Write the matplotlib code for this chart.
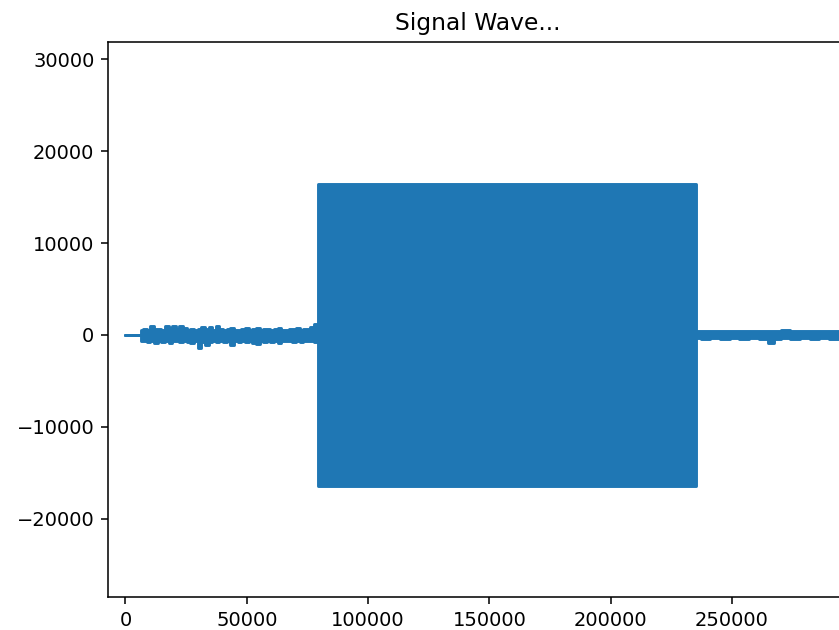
import numpy as np
from matplotlib import pyplot as plt

# quiet lead-in before the noise starts
lead_x = [0, 6000]
lead_v = [0, 0]

# noisy part before the tone (envelope)
pre_x = [6500, 8000, 9500, 11000, 12500, 14000, 15500, 17000, 18500, 20000,
         21500, 23000, 24500, 26000, 27500, 29000, 30500, 32000, 33500, 35000,
         36500, 38000, 39500, 41000, 42500, 44000, 45500, 47000, 48500, 50000,
         51500, 53000, 54500, 56000, 57500, 59000, 60500, 62000, 63500, 65000,
         66500, 68000, 69500, 71000, 72500, 74000, 75500, 77000, 78500]
pre_hi = [500, 600, 550, 1000, 600, 650, 550, 1000, 700, 1000,
          600, 950, 700, 550, 650, 500, 600, 850, 600, 900,
          550, 950, 600, 500, 650, 800, 500, 550, 600, 800,
          500, 600, 700, 500, 600, 650, 500, 600, 700, 550,
          500, 650, 600, 700, 500, 600, 650, 900, 1200]
pre_lo = [-700, -650, -800, -700, -900, -650, -750, -700, -850, -700,
          -650, -800, -700, -750, -900, -700, -1400, -800, -1100, -750,
          -700, -800, -650, -800, -700, -1050, -700, -750, -650, -800,
          -700, -900, -1000, -700, -750, -650, -800, -700, -900, -650,
          -700, -650, -750, -650, -800, -650, -700, -650, -750]

# loud tone block
block_x = [79800, 234800]
block_amp = [16400, 16400]

# small noise after the tone
post_x = [235500, 239000, 243000, 247000, 251000, 255000, 259000, 263000,
          266500, 268000, 272000, 276000, 280000, 284000, 288000, 292000, 296000, 300000]
post_hi = [400, 450, 400, 450, 400, 450, 400, 450, 400, 450, 550, 400, 450, 400, 450, 400, 450, 400]
post_lo = [-350, -400, -350, -400, -350, -400, -350, -400, -850, -400, -350, -400, -350, -400, -350, -400, -350, -400]

sig_x = np.concatenate([lead_x, pre_x, block_x, post_x])
sig_hi = np.concatenate([lead_v, pre_hi, block_amp, post_hi])
sig_lo = np.concatenate([lead_v, pre_lo, [-a for a in block_amp], post_lo])

fig = plt.figure(figsize=(839 / 140, 630 / 140), dpi=140)
ax = fig.add_axes([108 / 839, 1 - 597 / 630, 740 / 839, 555 / 630])
ax.fill_between(sig_x, sig_lo, sig_hi, step='mid', color='#1f77b4',
                edgecolor='#1f77b4', linewidth=1.5)
ax.set_xlim(-7200, 297800)
ax.set_ylim(-28540, 31900)
ax.set_title('Signal Wave...')
fig.savefig('out.png', dpi=140)
